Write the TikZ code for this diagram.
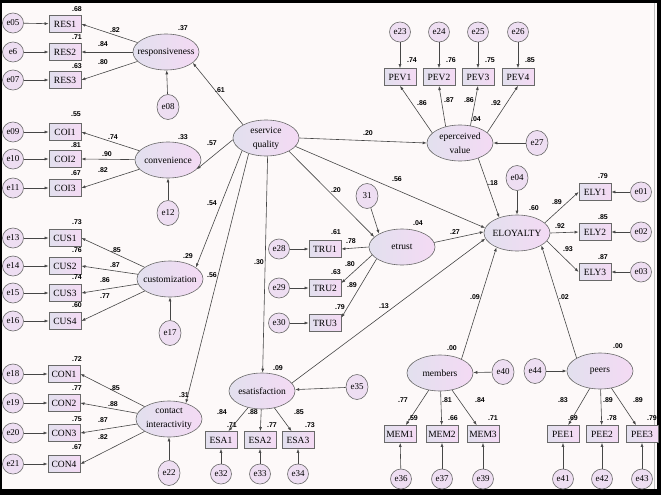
\documentclass[tikz,border=0pt]{standalone}
\usepackage{fontspec}
\setmainfont{Liberation Serif}
\newfontfamily\numfont{Liberation Sans}
\usetikzlibrary{shapes.geometric,arrows.meta}
\definecolor{latL}{RGB}{226,224,238}
\definecolor{latR}{RGB}{244,218,244}
\definecolor{errF}{RGB}{238,222,242}
\definecolor{edgec}{RGB}{70,70,70}
\definecolor{bord}{RGB}{105,105,105}
\definecolor{bgc}{RGB}{253,249,249}
\newcounter{lbc}
\newcommand\lab[2]{\stepcounter{lbc}\node[num] (lb\arabic{lbc}) at (#1) {#2};}
\tikzset{
 lat/.style={ellipse, draw=bord, line width=0.6pt, left color=latL, right color=latR,
   minimum width=66pt, minimum height=36pt, inner xsep=-10pt, inner ysep=0pt,
   font=\fontsize{9.5}{14}\selectfont, align=center},
 obs/.style={rectangle, draw=bord, line width=0.8pt, left color=latL, right color=latR,
   minimum width=32pt, minimum height=17pt, inner sep=0pt, font=\fontsize{9.5}{11}\selectfont},
 err/.style={ellipse, draw=bord, line width=0.6pt, fill=errF, minimum width=21pt,
   minimum height=20pt, inner sep=0pt, font=\fontsize{9}{10}\selectfont},
 errv/.style={err, minimum width=22pt, minimum height=25pt},
 num/.style={font=\numfont\bfseries\fontsize{7}{8}\selectfont, inner sep=0pt},
 arr/.style={-{Latex[length=4pt,width=3pt]}, draw=edgec, line width=0.6pt},
}
\begin{document}
\begin{tikzpicture}[x=1pt,y=-1pt]
\useasboundingbox (0,0) rectangle (661,495);
\fill[bgc] (0,0) rectangle (661,495);
\fill[black] (0,0) rectangle (2,495);
\fill[black] (0,0) rectangle (661,3);
\fill[black] (657,0) rectangle (661,495);
\fill[black] (0,489) rectangle (661,495);
\draw[gray!50, line width=0.5pt] (654,3) -- (654,489);

% ---------- responsiveness
\node[err] (e05) at (13,23) {e05};
\node[err] (e6) at (13,52) {e6};
\node[err] (e07) at (13,80) {e07};
\node[obs] (res1) at (65,24) {RES1};
\node[obs] (res2) at (65,52) {RES2};
\node[obs] (res3) at (65,80) {RES3};
\node[lat] (resp) at (166,52) {responsiveness};
\node[errv] (e08) at (168,107) {e08};
% ---------- convenience
\node[err] (e09) at (13,132) {e09};
\node[err] (e10) at (13,159) {e10};
\node[err] (e11) at (13,188) {e11};
\node[obs] (coi1) at (65,132) {COI1};
\node[obs] (coi2) at (65,159) {COI2};
\node[obs] (coi3) at (65,188) {COI3};
\node[lat] (conv) at (168,160) {convenience};
\node[errv] (e12) at (168,213) {e12};
% ---------- customization
\node[err] (e13) at (13,238) {e13};
\node[err] (e14) at (13,266) {e14};
\node[err] (e15) at (13,293) {e15};
\node[err] (e16) at (13,321) {e16};
\node[obs] (cus1) at (65,238) {CUS1};
\node[obs] (cus2) at (65,266) {CUS2};
\node[obs] (cus3) at (65,293) {CUS3};
\node[obs] (cus4) at (65,321) {CUS4};
\node[lat] (cust) at (170,279) {customization};
\node[errv] (e17) at (170,333) {e17};
% ---------- contact interactivity
\node[err] (e18) at (13,374) {e18};
\node[err] (e19) at (13,403) {e19};
\node[err] (e20) at (13,433) {e20};
\node[err] (e21) at (13,464) {e21};
\node[obs] (con1) at (64,374) {CON1};
\node[obs] (con2) at (64,403) {CON2};
\node[obs] (con3) at (64,433) {CON3};
\node[obs] (con4) at (64,464) {CON4};
\node[lat] (contact) at (169,419) {contact\\interactivity};
\node[errv] (e22) at (169,473) {e22};
% ---------- eservice quality
\node[lat] (eserv) at (266,138) {eservice\\quality};
% ---------- perceived value
\node[err] (e23) at (400,32) {e23};
\node[err] (e24) at (439,32) {e24};
\node[err] (e25) at (478,32) {e25};
\node[err] (e26) at (518,32) {e26};
\node[obs] (pev1) at (400,77) {PEV1};
\node[obs] (pev2) at (439,77) {PEV2};
\node[obs] (pev3) at (478,77) {PEV3};
\node[obs] (pev4) at (518,77) {PEV4};
\node[lat] (epv) at (460,143) {eperceived\\value};
\node[errv] (e27) at (537,143) {e27};
% ---------- etrust
\node[errv] (e31) at (367,196) {31};
\node[lat] (etrust) at (402,247) {etrust};
\node[obs] (tru1) at (325,249) {TRU1};
\node[obs] (tru2) at (325,288) {TRU2};
\node[obs] (tru3) at (325,323) {TRU3};
\node[err] (e28) at (279,249) {e28};
\node[err] (e29) at (279,288) {e29};
\node[err] (e30) at (279,323) {e30};
% ---------- esatisfaction
\node[lat] (esat) at (262,391) {esatisfaction};
\node[errv] (e35) at (357,387) {e35};
\node[obs] (esa1) at (221,440) {ESA1};
\node[obs] (esa2) at (260,440) {ESA2};
\node[obs] (esa3) at (298,440) {ESA3};
\node[err] (e32) at (221,474) {e32};
\node[err] (e33) at (260,474) {e33};
\node[err] (e34) at (298,474) {e34};
% ---------- eloyalty
\node[lat] (eloy) at (517,233) {ELOYALTY};
\node[errv] (e04) at (517,178) {e04};
\node[obs] (ely1) at (595,192) {ELY1};
\node[obs] (ely2) at (595,232) {ELY2};
\node[obs] (ely3) at (595,272) {ELY3};
\node[err] (e01) at (641,192) {e01};
\node[err] (e02) at (641,232) {e02};
\node[err] (e03) at (641,272) {e03};
% ---------- members
\node[lat] (members) at (440,373) {members};
\node[errv] (e40) at (503,372) {e40};
\node[obs] (mem1) at (400,434) {MEM1};
\node[obs] (mem2) at (442,434) {MEM2};
\node[obs] (mem3) at (483,434) {MEM3};
\node[err] (e36) at (401,479) {e36};
\node[err] (e37) at (442,479) {e37};
\node[err] (e39) at (483,479) {e39};
% ---------- peers
\node[lat] (peers) at (600,371) {peers};
\node[errv] (e44) at (535,371) {e44};
\node[obs] (pee1) at (563,434) {PEE1};
\node[obs] (pee2) at (602,434) {PEE2};
\node[obs] (pee3) at (642,434) {PEE3};
\node[err] (e41) at (563,479) {e41};
\node[err] (e42) at (602,479) {e42};
\node[err] (e43) at (642,479) {e43};

% ---------- measurement arrows
\foreach \a/\b in {e05/res1,e6/res2,e07/res3,e09/coi1,e10/coi2,e11/coi3,
  e13/cus1,e14/cus2,e15/cus3,e16/cus4,e18/con1,e19/con2,e20/con3,e21/con4,
  e28/tru1,e29/tru2,e30/tru3,e23/pev1,e24/pev2,e25/pev3,e26/pev4,
  e32/esa1,e33/esa2,e34/esa3,e36/mem1,e37/mem2,e39/mem3,e41/pee1,e42/pee2,e43/pee3,
  e01/ely1,e02/ely2,e03/ely3,
  e08/resp,e12/conv,e17/cust,e22/contact,e27/epv,e35/esat,e40/members,e44/peers,e04/eloy}
  \draw[arr] (\a) -- (\b);
\draw[arr] (e31) -- (etrust.150);
\foreach \b in {res1,res2,res3} \draw[arr] (resp) -- (\b.east);
\foreach \b in {coi1,coi2,coi3} \draw[arr] (conv) -- (\b.east);
\foreach \b in {cus1,cus2,cus3,cus4} \draw[arr] (cust) -- (\b.east);
\foreach \b in {con1,con2,con3,con4} \draw[arr] (contact) -- (\b.east);
\foreach \b in {esa1,esa2,esa3} \draw[arr] (esat) -- (\b);
\foreach \b in {mem1,mem2,mem3} \draw[arr] (members) -- (\b);
\foreach \b in {pee1,pee2,pee3} \draw[arr] (peers) -- (\b);
\draw[arr] (epv.160) -- (pev1.south);
\draw[arr] (epv.131) -- (pev2.south);
\draw[arr] (epv.59) -- (pev3.south);
\draw[arr] (epv.21) -- (pev4.south);
\draw[arr] (etrust.180) -- (tru1.east);
\draw[arr] (etrust.195) -- (tru2.17);
\draw[arr] (etrust.205) -- (tru3.18);
\draw[arr] (eloy.20) -- (ely1.west);
\draw[arr] (eloy.0) -- (ely2.west);
\draw[arr] (eloy.-15) -- (ely3.west);

% ---------- structural arrows
\draw[arr] (eserv.150) -- (resp.-22);
\draw[arr] (eserv.183) -- (conv.-18);
\draw[arr] (eserv.208) -- (cust.24);
\draw[arr] (eserv.222) -- (contact.43);
\draw[arr] (eserv.275) -- (esat.88);
\draw[arr] (eserv.-30) -- (etrust.160);
\draw[arr] (eserv.0) -- (epv.180);
\draw[arr] (eserv.-16) -- (eloy.171);
\draw[arr] (epv.-40) -- (eloy.139);
\draw[arr] (etrust.8) -- (eloy.178);
\draw[arr] (esat.15) -- (eloy.190);
\draw[arr] (members.33) -- (eloy.215);
\draw[arr] (peers.151) -- (eloy.-27);

% ---------- coefficient labels
\lab{77,9}{.68}\lab{77,37}{.71}\lab{77,66}{.63}
\lab{115,30}{.82}\lab{103,44}{.84}\lab{103,62}{.80}
\lab{183,28}{.37}\lab{220,90}{.61}
\lab{76,114}{.55}\lab{76,145}{.81}\lab{76,173}{.67}
\lab{113,137}{.74}\lab{107,154}{.90}\lab{103,170}{.82}
\lab{183,137}{.33}\lab{212,143}{.57}
\lab{77,222}{.73}\lab{77,250}{.76}\lab{77,277}{.74}\lab{77,305}{.60}
\lab{116,250}{.85}\lab{115,265}{.87}\lab{105,280}{.86}\lab{105,296}{.77}
\lab{188,256}{.29}\lab{212,203}{.54}\lab{212,275}{.56}
\lab{77,359}{.72}\lab{77,388}{.77}\lab{77,419}{.75}\lab{77,447}{.67}
\lab{115,388}{.85}\lab{113,404}{.88}\lab{103,420}{.87}\lab{103,437}{.82}
\lab{184,395}{.31}
\lab{368,133}{.20}\lab{397,179}{.56}\lab{336,190}{.20}
\lab{418,223}{.04}\lab{336,232}{.61}\lab{336,272}{.63}\lab{340,307}{.79}
\lab{351,241}{.78}\lab{350,264}{.80}\lab{352,285}{.89}
\lab{455,232}{.27}\lab{259,262}{.30}\lab{384,306}{.13}
\lab{278,368}{.09}\lab{222,412}{.84}\lab{232,425}{.71}\lab{253,412}{.88}
\lab{272,425}{.77}\lab{299,412}{.85}\lab{310,425}{.73}
\lab{412,60}{.74}\lab{451,60}{.76}\lab{490,60}{.75}\lab{530,60}{.85}
\lab{422,103}{.86}\lab{449,100}{.87}\lab{469,100}{.86}\lab{496,103}{.92}
\lab{476,119}{.04}\lab{493,183}{.18}
\lab{534,208}{.60}\lab{603,176}{.79}\lab{603,217}{.85}\lab{603,257}{.87}
\lab{557,202}{.89}\lab{560,226}{.92}\lab{568,249}{.93}
\lab{475,297}{.09}\lab{564,297}{.02}
\lab{452,348}{.00}\lab{403,400}{.77}\lab{413,418}{.59}\lab{447,400}{.81}
\lab{453,418}{.66}\lab{480,400}{.84}\lab{493,418}{.71}
\lab{618,346}{.00}\lab{563,400}{.83}\lab{573,418}{.69}\lab{608,400}{.89}
\lab{612,418}{.78}\lab{638,400}{.89}\lab{652,418}{.79}
\end{tikzpicture}
\end{document}
